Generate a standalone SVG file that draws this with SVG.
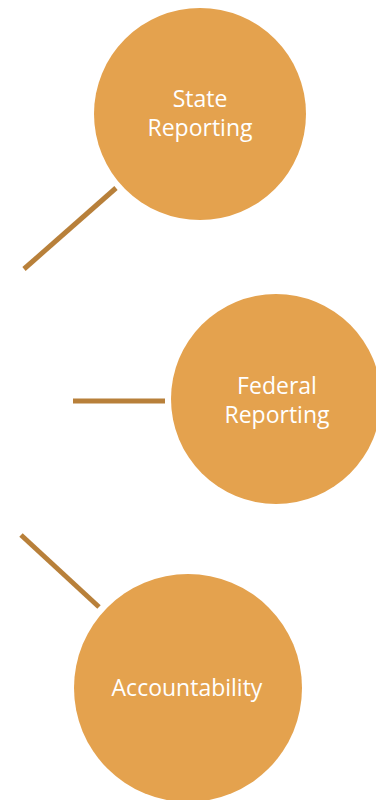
<svg xmlns="http://www.w3.org/2000/svg" width="376" height="800" viewBox="0 0 376 800">
<style>
.node{fill:#E4A24E}
.lbl{font-family:"Open Sans","Liberation Sans",sans-serif;font-size:23px;fill:#FFFFFF;text-anchor:middle;font-variant-ligatures:none}
.conn{stroke:#B8803A;stroke-width:5;fill:none}
</style>
<rect width="376" height="800" fill="#FFFFFF"/>
<g id="connectors">
<line class="conn" x1="116" y1="188" x2="24" y2="269"/>
<line class="conn" x1="73" y1="401" x2="165" y2="401"/>
<line class="conn" x1="21" y1="535" x2="99" y2="607"/>
</g>
<g id="state-reporting">
<circle class="node" cx="200" cy="114" r="106"/>
<text class="lbl" x="200" y="107">State</text>
<text class="lbl" x="200" y="136">Reporting</text>
</g>
<g id="federal-reporting">
<circle class="node" cx="276" cy="399" r="105"/>
<text class="lbl" x="277" y="394">Federal</text>
<text class="lbl" x="277" y="423">Reporting</text>
</g>
<g id="accountability">
<circle class="node" cx="188" cy="688" r="114"/>
<text class="lbl" x="187" y="696">Accountability</text>
</g>
</svg>
